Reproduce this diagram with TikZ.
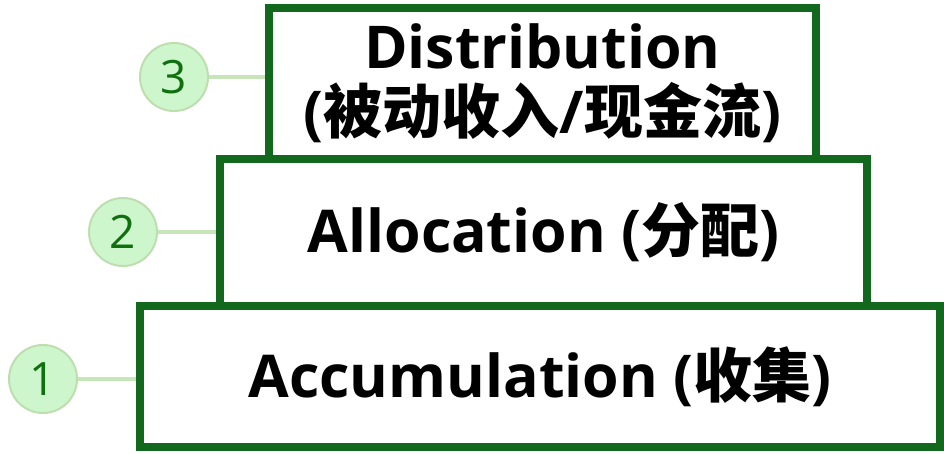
\documentclass[tikz,border=0pt]{standalone}
\usepackage{fontspec}
\setmainfont{Open Sans}
\newfontfamily\cjk{Noto Sans CJK SC}
\definecolor{boxgreen}{RGB}{18,104,28}
\definecolor{numgreen}{RGB}{16,112,16}
\definecolor{circfill}{RGB}{206,246,204}
\definecolor{circline}{RGB}{190,222,176}
\definecolor{linkgreen}{RGB}{198,230,186}
\begin{document}
\begin{tikzpicture}[x=1pt,y=-1pt,
  stepbox/.style={draw=boxgreen, line width=8.5pt, fill=white, inner sep=0pt,
    font=\fontsize{59}{65}\selectfont\bfseries, align=center, text=black},
  numcirc/.style={circle, draw=circline, line width=2pt, fill=circfill,
    minimum size=68pt, inner sep=0pt, text=numgreen, font=\fontsize{46}{46}\selectfont},
  link/.style={draw=linkgreen, line width=4pt}]
\useasboundingbox (0,0) rectangle (944,454);
\node[stepbox, minimum width=800pt, minimum height=141pt] (b1) at (540,376.5)
  {Accumulation ({\cjk 收集})};
\node[stepbox, minimum width=647pt, minimum height=147pt] (b2) at (543.5,232.5)
  {Allocation ({\cjk 分配})};
\node[stepbox, minimum width=547pt, minimum height=151pt] (b3) at (542.5,83.5)
  {Distribution\\({\cjk 被动收入}/{\cjk 现金流})};
\node[numcirc] (c1) at (43,379) {1};
\node[numcirc] (c2) at (123,232) {2};
\node[numcirc] (c3) at (174,77) {3};
\draw[link] (c1) -- (c1 -| b1.west);
\draw[link] (c2) -- (c2 -| b2.west);
\draw[link] (c3) -- (c3 -| b3.west);
\end{tikzpicture}
\end{document}
